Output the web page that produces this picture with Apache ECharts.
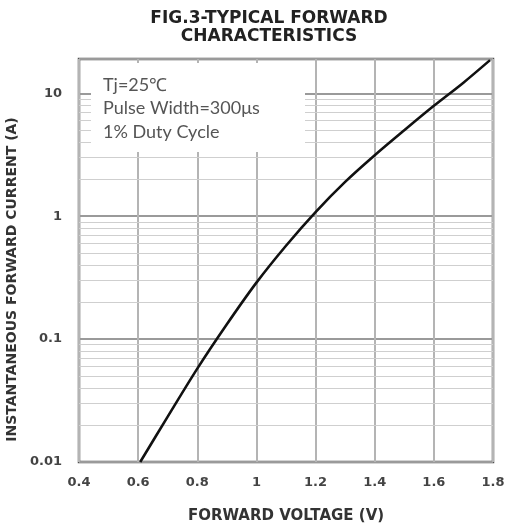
<!DOCTYPE html>
<html>
<head>
<meta charset="utf-8">
<script src="https://cdn.jsdelivr.net/npm/echarts@6/dist/echarts.min.js"></script>
<style>
html,body{margin:0;padding:0;background:#fff;}
#chart{width:506px;height:526px;}
</style>
</head>
<body>
<div id="chart"></div>
<script>
// Forward voltage (V) and instantaneous forward current (A)
var voltage = [0.607, 0.70, 0.80, 0.90, 1.00, 1.10, 1.20, 1.30, 1.40, 1.50, 1.60, 1.70, 1.79];
var current = [0.010, 0.0234, 0.0575, 0.132, 0.288, 0.575, 1.08, 1.90, 3.13, 5.0, 7.9, 12.2, 18.6];
var xTickLabels = ['0.4', '0.6', '0.8', '1', '1.2', '1.4', '1.6', '1.8'];
var yTickLabels = ['0.01', '0.1', '1', '10'];
var minorGrid = [0.02, 0.03, 0.04, 0.05, 0.06, 0.07, 0.08, 0.09,
                 0.2, 0.3, 0.4, 0.5, 0.6, 0.7, 0.8, 0.9,
                 2, 3, 4, 5, 6, 7, 8, 9];
var titleLines = ['FIG.3-TYPICAL FORWARD', 'CHARACTERISTICS'];
var noteLines = ['Tj=25\u2103', 'Pulse Width=300\u03bcs', '1% Duty Cycle'];

var chart = echarts.init(document.getElementById('chart'), null, {renderer: 'canvas'});
var curveData = voltage.map(function (v, i) { return [v, current[i]]; });

var option = {
  animation: false,
  backgroundColor: '#fff',
  grid: {left: 79, right: 13, top: 59, bottom: 64, show: true, borderColor: '#505050', borderWidth: 2.5, containLabel: false, outerBoundsMode: 'none'},
  xAxis: {
    type: 'value', min: 0.4, max: 1.8, interval: 0.2,
    name: 'FORWARD VOLTAGE (V)', nameLocation: 'middle', nameGap: 47,
    nameTextStyle: {fontFamily: 'DejaVu Sans', fontWeight: 'bold', fontSize: 15, color: '#333'},
    axisLine: {show: false}, axisTick: {show: false},
    axisLabel: {
      margin: 14, fontFamily: 'DejaVu Sans', fontWeight: 'bold', fontSize: 13, color: '#444',
      formatter: function (v) { var i = Math.round((v - 0.4) / 0.2); return xTickLabels[i] || ''; }
    },
    splitLine: {show: true, lineStyle: {color: '#b4b4b4', width: 2}}
  },
  yAxis: {
    type: 'log', logBase: 10, min: 0.01, max: 19,
    name: 'INSTANTANEOUS FORWARD CURRENT (A)', nameLocation: 'middle', nameGap: 48,
    nameTextStyle: {fontFamily: 'DejaVu Sans', fontWeight: 'bold', fontSize: 14, color: '#333', padding: [0, 38, 0, 0]},
    axisLine: {show: false}, axisTick: {show: false},
    axisLabel: {
      margin: 17, fontFamily: 'DejaVu Sans', fontWeight: 'bold', fontSize: 13, color: '#444',
      showMaxLabel: false,
      formatter: function (v) { var e = Math.round(Math.log10(v)); if (Math.abs(Math.log10(v) - e) > 1e-6) return ''; return yTickLabels[e + 2] || ''; }
    },
    splitLine: {show: true, lineStyle: {color: '#9a9a9a', width: 2}}
  },
  graphic: {
    elements: [
      {type: 'rect', z: 100, shape: {x: 91, y: 63, width: 214, height: 89}, style: {fill: '#fff'}},
      {type: 'text', z: 101, x: 103, y: 73, style: {text: noteLines.join('\n'), font: '18px Lato', lineHeight: 23.5, fill: '#555', textVerticalAlign: 'top'}},
      {type: 'text', z: 101, x: 269, y: 10, style: {text: titleLines.join('\n'), font: 'bold 17px "DejaVu Sans"', lineHeight: 18, fill: '#222', textAlign: 'center', textVerticalAlign: 'top'}}
    ]
  },
  series: [
    {
      type: 'line', data: [], silent: true,
      markLine: {
        silent: true, symbol: 'none', label: {show: false},
        lineStyle: {color: '#cfcfcf', width: 1.2, type: 'solid'},
        data: minorGrid.map(function (v) { return {yAxis: v}; })
      }
    },
    {
      type: 'line', data: curveData, smooth: 0.3, symbol: 'none', z: 5,
      lineStyle: {color: '#111', width: 2.6}
    }
  ]
};
chart.setOption(option);
</script>
</body>
</html>
